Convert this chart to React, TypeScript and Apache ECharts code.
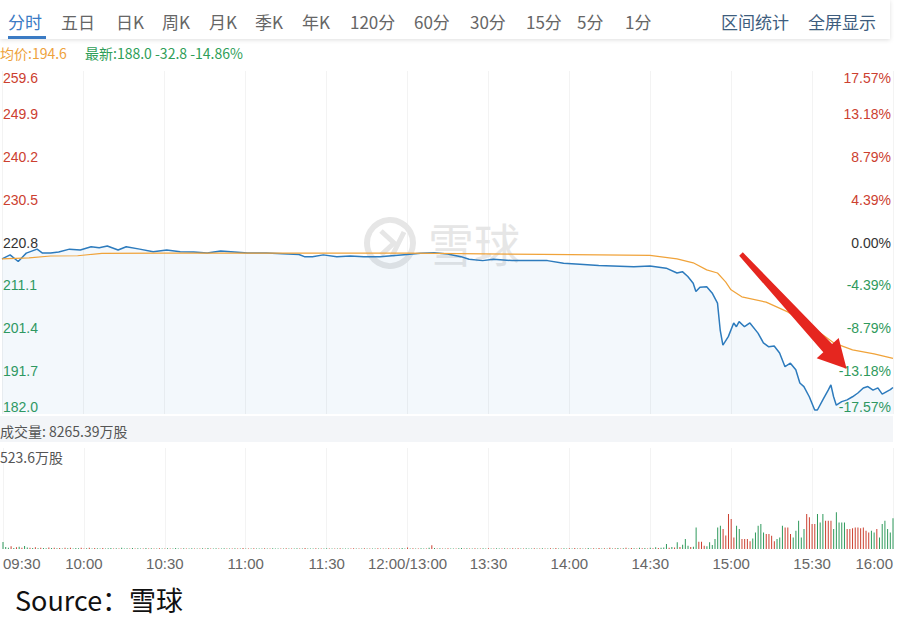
import React, { useEffect, useRef } from 'react';
import * as echarts from 'echarts';

const PREV_CLOSE = 220.8;
const PRICE_MIN = 182.0;
const PRICE_MAX = 259.6;
const PRICE_STEP = 9.7;
const VOLUME_MAX = 523.6;

const timeLabels = ['09:30', '10:00', '10:30', '11:00', '11:30', '12:00/13:00', '13:30', '14:00', '14:30', '15:00', '15:30', '16:00'];

const tabs = ['分时', '五日', '日K', '周K', '月K', '季K', '年K', '120分', '60分', '30分', '15分', '5分', '1分'];
const tools = ['区间统计', '全屏显示'];

const avgText = '均价:194.6';
const lastText = '最新:188.0 -32.8 -14.86%';
const totalVolText = '成交量: 8265.39万股';
const volMaxText = '523.6万股';
const sourceText = 'Source：雪球';

// [minute since 09:30 (trading minutes), price]
const pricePoints: [number, number][] = [
  [0, 217.1], [3, 218.0], [6, 216.5], [9, 218.4], [13, 219.3], [15, 218.4], [18, 218.4], [21, 218.65],
  [25, 219.3], [29, 219.1], [33, 219.85], [36, 219.6], [39, 220.0], [43, 219.1], [46, 219.85], [51, 219.3],
  [56, 218.7], [61, 219.1], [66, 218.7], [71, 218.65], [76, 218.4], [81, 218.9], [86, 218.65], [91, 218.4],
  [98, 218.4], [106, 218.2], [110, 218.1], [112, 217.6], [115, 217.6], [119, 218.0], [124, 217.6], [129, 217.75],
  [134, 217.6], [140, 217.6], [150, 218.1], [155, 218.35], [160, 218.5], [165, 218.2], [170, 217.6], [173, 217.0],
  [178, 216.7], [182, 217.0], [189, 216.7], [196, 216.7], [202, 216.7], [208, 216.1], [214, 215.9], [221, 215.6],
  [234, 215.3], [240, 215.5], [246, 215.0], [250, 213.9], [252, 214.2], [254, 213.1], [256, 211.6], [257, 209.7],
  [258.5, 210.7], [261, 210.8], [263, 209.4], [265, 207.1], [266, 201.0], [267, 197.6], [269, 199.5], [271, 202.6],
  [272, 201.75], [273, 202.9], [275, 201.75], [277, 202.6], [280, 200.3], [282, 198.1], [284, 197.2], [286, 197.4],
  [288, 195.8], [290, 192.7], [292, 193.5], [294, 192.0], [295.5, 189.0], [297, 188.2], [299, 185.9], [301, 182.9],
  [302, 182.9], [304, 185.2], [306, 187.4], [307, 188.6], [308, 185.9], [309, 184.0], [311, 184.8], [313, 185.2],
  [315, 185.9], [317, 186.75], [319, 187.9], [320.7, 188.2], [322.6, 187.4], [324.4, 187.9], [326, 186.5], [329, 187.5],
  [330, 188.0],
];

const avgPoints: [number, number][] = [
  [0, 217.1], [10, 217.3], [18, 217.75], [28, 217.8], [37, 218.35], [60, 218.4], [150, 218.4], [200, 218.1],
  [221, 218.0], [240, 217.9], [250, 217.1], [256, 216.2], [261, 214.6], [265, 213.9], [268, 211.9], [270, 210.1],
  [274, 208.5], [283, 207.3], [291, 205.1], [300, 201.7], [308, 198.1], [315, 196.5], [323, 195.6], [330, 194.6],
];

// volume per trading minute (万股), minutes 0..330
const volumes: number[] = [
  36, 10, 6, 14, 5, 9, 12, 6, 15, 8,
  6, 5, 9, 4, 7, 5, 4, 8, 5, 6,
  4, 5, 3, 6, 4, 7, 3, 5, 4, 6,
  3, 4, 6, 3, 5, 4, 3, 5, 3, 4,
  5, 3, 4, 3, 6, 3, 4, 3, 5, 3,
  4, 3, 3, 5, 3, 4, 3, 3, 4, 3,
  3, 4, 3, 3, 5, 3, 3, 4, 3, 3,
  4, 3, 3, 3, 4, 3, 5, 3, 3, 4,
  3, 3, 4, 3, 3, 3, 4, 3, 3, 5,
  3, 3, 3, 4, 3, 3, 3, 4, 3, 3,
  4, 3, 3, 3, 3, 4, 3, 3, 3, 4,
  3, 3, 5, 3, 3, 3, 4, 3, 3, 3,
  4, 3, 3, 3, 3, 4, 3, 3, 3, 3,
  4, 3, 3, 3, 4, 3, 3, 3, 3, 4,
  3, 3, 3, 4, 3, 3, 3, 3, 5, 3,
  8, 3, 4, 3, 3, 4, 3, 3, 6, 20,
  5, 3, 4, 3, 3, 4, 3, 3, 3, 4,
  5, 3, 4, 3, 3, 4, 3, 3, 4, 3,
  4, 3, 3, 4, 3, 3, 4, 3, 3, 4,
  3, 4, 3, 3, 4, 3, 3, 4, 3, 3,
  4, 3, 3, 4, 3, 5, 3, 3, 4, 3,
  4, 3, 5, 3, 4, 3, 3, 5, 3, 4,
  3, 5, 3, 4, 3, 6, 3, 4, 5, 3,
  4, 6, 3, 5, 4, 3, 6, 4, 5, 3,
  7, 4, 9, 5, 6, 8, 26, 6, 10, 8,
  35, 10, 22, 52, 17, 10, 12, 112, 38, 38,
  17, 14, 35, 21, 52, 112, 121, 104, 70, 181,
  155, 60, 121, 104, 52, 52, 52, 40, 55, 86,
  121, 130, 86, 78, 78, 69, 40, 52, 60, 121,
  112, 112, 78, 60, 95, 147, 60, 104, 181, 164,
  130, 130, 181, 138, 181, 147, 147, 147, 104, 190,
  138, 138, 138, 104, 104, 107, 112, 112, 107, 112,
  95, 86, 95, 86, 104, 60, 130, 147, 104, 86,
  159,
];

// r = price up (red), g = price down (green), per minute
const volumeDirection: string = [
  'gggrgrgrgg', 'rgrgrggrgr', 'grgrgrgggr', 'rgrgrggrgg', 'grgrgggrgr',
  'ggrgrgrgrg', 'rgrgggrgrg', 'grgrgrgrgg', 'rggrgrgrgr', 'grgrgggrgr',
  'gggrgrgrgg', 'rgrgggrgrg', 'grgrgrgggr', 'rgrgrgrggr', 'grgrgrgrgg',
  'rgrgrggrgr', 'grgrgrggrg', 'grgrgrgrgg', 'rgrggrgrgr', 'grgrgggrgr',
  'grgrgrgrgg', 'rgrgrgrggr', 'grgrgrgrgr', 'grgrgrgrgr', 'grgrgggrgr',
  'grgggrggrr', 'rggggggrrr', 'rrggrrrrgg', 'gggrrrrggg', 'rrrgggggrr',
  'rrgggrrrgg', 'gggrrrrrrr', 'rrggrggggg', 'g',
].join('');

const RED = '#cc4030';
const GREEN = '#2f9a5c';
const CJK = '"Noto Sans CJK SC", "Microsoft YaHei", sans-serif';
const NUM = 'Arial, "Liberation Sans", sans-serif';

export default function App() {
  const ref = useRef<HTMLDivElement>(null);

  useEffect(() => {
    if (!ref.current) return;
    const chart = echarts.init(ref.current, null, { renderer: 'svg' });

    const labelColor = (v: any) => {
      const n = Number(v);
      if (n > PREV_CLOSE + 0.01) return RED;
      if (n < PREV_CLOSE - 0.01) return GREEN;
      return '#333';
    };

    const tabX = [8, 61, 116, 162, 209, 255, 302, 350, 414, 470, 526, 577, 625];
    const toolX = [721, 808];

    const graphics: any[] = [
      {
        type: 'rect', z: 10,
        shape: { x: 0, y: 0, width: 890, height: 39 },
        style: { fill: '#fff', shadowBlur: 4, shadowColor: 'rgba(0,0,0,0.13)', shadowOffsetY: 1 },
      },
      { type: 'rect', z: 11, shape: { x: 8, y: 36, width: 38, height: 3 }, style: { fill: '#3b7bc4' } },
    ];
    tabs.forEach((t, i) => {
      graphics.push({
        type: 'text', z: 11, x: tabX[i], y: 21,
        style: { text: t, fill: i === 0 ? '#3b7bc4' : '#666', fontSize: 17, fontFamily: CJK, verticalAlign: 'middle' },
      });
    });
    tools.forEach((t, i) => {
      graphics.push({
        type: 'text', z: 11, x: toolX[i], y: 21,
        style: { text: t, fill: '#3e5d7e', fontSize: 17, fontFamily: CJK, verticalAlign: 'middle' },
      });
    });
    graphics.push(
      { type: 'text', z: 11, x: 0, y: 53, style: { text: avgText, fill: '#eea23c', fontSize: 14, fontFamily: CJK, verticalAlign: 'middle' } },
      { type: 'text', z: 11, x: 85, y: 53, style: { text: lastText, fill: '#2f9e58', fontSize: 14, fontFamily: CJK, verticalAlign: 'middle' } },
      // watermark
      { type: 'circle', z: 1, shape: { cx: 390, cy: 243, r: 23 }, style: { fill: 'none', stroke: '#e6e6e6', lineWidth: 6 } },
      { type: 'polyline', z: 1, shape: { points: [[381, 231], [394, 243], [381, 255]] }, style: { fill: 'none', stroke: '#e6e6e6', lineWidth: 5 } },
      { type: 'line', z: 1, shape: { x1: 392, y1: 256, x2: 404, y2: 232 }, style: { stroke: '#e6e6e6', lineWidth: 5 } },
      { type: 'text', z: 1, x: 428, y: 242, style: { text: '雪球', fill: '#e6e6e6', fontSize: 46, fontFamily: CJK, verticalAlign: 'middle' } },
      // volume info strip
      { type: 'rect', z: 5, shape: { x: 0, y: 416, width: 893, height: 26 }, style: { fill: '#f3f5f8' } },
      { type: 'text', z: 6, x: 0, y: 431, style: { text: totalVolText, fill: '#555', fontSize: 14, fontFamily: CJK, verticalAlign: 'middle' } },
      { type: 'text', z: 6, x: 0, y: 457, style: { text: volMaxText, fill: '#555', fontSize: 14, fontFamily: CJK, verticalAlign: 'middle' } },
      // source
      { type: 'text', z: 6, x: 15, y: 599, style: { text: sourceText, fill: '#111', fontSize: 27, fontFamily: CJK, verticalAlign: 'middle' } },
      // red arrow annotation
      {
        type: 'polygon', z: 100,
        shape: { points: [[739.2, 255.7], [742.8, 252.3], [832.1, 344.0], [838.7, 337.9], [846.6, 368.7], [816.7, 358.3], [823.3, 352.2]] },
        style: { fill: '#e5261f' },
      },
    );

    const option: any = {
      animation: false,
      backgroundColor: '#fff',
      grid: [
        { left: 2, right: 11, top: 71, height: 343 },
        { left: 2, right: 11, top: 448, height: 101 },
      ],
      xAxis: [
        {
          type: 'value', gridIndex: 0, min: 0, max: 330, interval: 30,
          axisLine: { show: false }, axisTick: { show: false }, axisLabel: { show: false },
          splitLine: { show: true, lineStyle: { color: '#f3f3f3', width: 1 } },
        },
        {
          type: 'value', gridIndex: 1, min: 0, max: 330, interval: 30,
          axisLine: { show: false }, axisTick: { show: false },
          axisLabel: {
            show: true, color: '#666', fontSize: 15, fontFamily: NUM, margin: 7,
            alignMinLabel: 'left', alignMaxLabel: 'right',
            formatter: (v: number) => timeLabels[Math.round(v / 30)] ?? '',
          },
          splitLine: { show: true, lineStyle: { color: '#f3f3f3', width: 1 } },
        },
      ],
      yAxis: [
        {
          type: 'value', gridIndex: 0, position: 'left', min: PRICE_MIN, max: PRICE_MAX, interval: PRICE_STEP,
          axisLine: { show: false }, axisTick: { show: false }, splitLine: { show: false },
          axisLabel: {
            inside: true, margin: 1, fontSize: 14, fontFamily: NUM,
            verticalAlignMinLabel: 'bottom', verticalAlignMaxLabel: 'top',
            formatter: (v: number) => v.toFixed(1), color: labelColor,
          },
        },
        {
          type: 'value', gridIndex: 0, position: 'right', min: PRICE_MIN, max: PRICE_MAX, interval: PRICE_STEP,
          axisLine: { show: false }, axisTick: { show: false }, splitLine: { show: false },
          axisLabel: {
            inside: true, margin: 2, fontSize: 14, fontFamily: NUM,
            verticalAlignMinLabel: 'bottom', verticalAlignMaxLabel: 'top',
            formatter: (v: number) => ((v - PREV_CLOSE) / PREV_CLOSE * 100).toFixed(2) + '%', color: labelColor,
          },
        },
        {
          type: 'value', gridIndex: 1, min: 0, max: VOLUME_MAX,
          axisLine: { show: false }, axisTick: { show: false }, axisLabel: { show: false }, splitLine: { show: false },
        },
      ],
      series: [
        {
          type: 'line', xAxisIndex: 0, yAxisIndex: 0, data: pricePoints, showSymbol: false, z: 3,
          lineStyle: { color: '#2d7bbd', width: 1.5 },
          areaStyle: { origin: 'start', color: 'rgba(41,128,200,0.08)' },
        },
        {
          type: 'line', xAxisIndex: 0, yAxisIndex: 0, data: avgPoints, showSymbol: false, z: 3,
          lineStyle: { color: '#f0a33a', width: 1.2 },
        },
        {
          type: 'bar', xAxisIndex: 1, yAxisIndex: 2, barWidth: 1,
          data: volumes.map((v, i) => ({
            value: [i, v],
            itemStyle: { color: volumeDirection[i] === 'r' ? RED : GREEN },
          })),
        },
      ],
      graphic: { elements: graphics },
    };

    chart.setOption(option);
    return () => chart.dispose();
  }, []);

  return (
    <div
      ref={ref}
      style={{ position: 'fixed', left: 0, top: 0, width: 904, height: 626, background: '#fff' }}
    />
  );
}
